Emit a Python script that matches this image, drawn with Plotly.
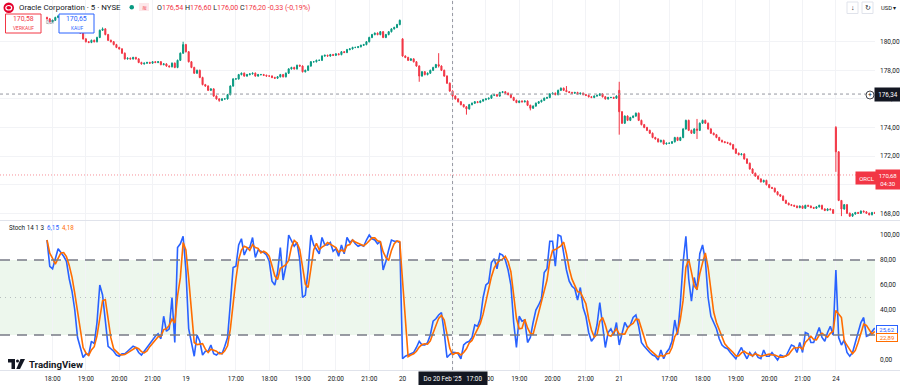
import pandas as pd
import plotly.graph_objects as go

W, H = 900, 385
UP, DOWN = "#089981", "#F23645"
BLUE, ORANGE = "#2962FF", "#FF6D00"
TXT = "#131722"
FONT = "Roboto, sans-serif"

# ---------------- data ----------------
SESSIONS = [("2025-02-18 17:50", 50), ("2025-02-19 15:30", 78), ("2025-02-20 15:30", 78),
            ("2025-02-21 15:30", 78), ("2025-02-24 15:30", 15)]

CLOSE_18 = [181.6, 181.4, 181.5, 181.7, 181.8, 181.7, 181.6, 181.5, 181.3, 181.2,
            181.0, 180.7, 180.6, 180.2, 180.0, 179.95, 180.1, 180.0, 180.3, 180.8,
            180.9, 180.5, 180.1, 180.0, 179.8, 179.6, 179.5, 179.2, 178.8, 178.85,
            178.8, 178.9, 178.8, 178.55, 178.45, 178.5, 178.55, 178.5, 178.6, 178.55,
            178.6, 178.4, 178.45, 178.3, 178.25, 178.5, 178.2, 178.7, 179.2, 179.8]
CLOSE_19 = [179.3, 178.6, 178.2, 177.8, 178.0, 177.5, 177.0, 176.9, 176.6, 176.7,
            176.2, 176.0, 175.9, 176.0, 176.0, 176.3, 176.9, 177.4, 177.4, 177.7,
            177.8, 177.6, 177.7, 177.75, 177.8, 177.6, 177.7, 177.7, 177.65, 177.6,
            177.6, 177.5, 177.45, 177.55, 177.7, 177.55, 177.8, 178.1, 178.2, 178.1,
            178.35, 178.3, 177.9, 178.0, 178.3, 178.6, 178.6, 178.7, 178.7, 179.0,
            179.05, 179.0, 179.1, 179.05, 179.15, 179.1, 179.3, 179.25, 179.45, 179.5,
            179.6, 179.6, 179.65, 179.75, 179.8, 180.0, 180.3, 180.5, 180.6, 180.5,
            180.7, 180.3, 180.5, 180.7, 180.9, 181.0, 181.2, 181.5]
CLOSE_20 = [179.0, 178.9, 178.7, 178.8, 178.6, 178.3, 177.6, 177.9, 177.7, 177.8,
            178.0, 178.2, 178.4, 178.3, 178.0, 177.6, 177.1, 176.55, 176.2, 176.0,
            175.8, 175.6, 175.45, 175.3, 175.6, 175.7, 175.8, 175.75, 175.85, 175.95,
            176.0, 176.05, 176.25, 176.3, 176.2, 176.45, 176.5, 176.4, 176.3, 176.1,
            175.9, 175.75, 175.85, 175.8, 175.85, 175.55, 175.35, 175.5, 175.7, 175.8,
            175.9, 176.05, 176.1, 176.35, 176.4, 176.3, 176.6, 176.75, 176.6, 176.5,
            176.45, 176.4, 176.45, 176.35, 176.4, 176.3, 176.25, 176.15, 176.1, 176.2,
            176.25, 176.35, 176.15, 176.0, 176.1, 176.1, 176.05, 176.2]
CLOSE_21 = [175.1, 174.3, 174.8, 174.5, 174.7, 174.8, 175.0, 174.5, 174.2, 174.0,
            173.8, 173.6, 173.3, 173.2, 173.0, 173.1, 172.85, 172.9, 172.9, 173.0,
            173.3, 173.1, 173.3, 173.9, 174.5, 173.8, 173.6, 173.9, 173.8, 174.3,
            174.5, 174.3, 173.9, 173.6, 173.5, 173.3, 173.1, 173.0, 172.95, 172.9,
            172.8, 172.5, 172.2, 172.1, 172.15, 171.8, 171.5, 171.1, 170.8, 170.6,
            170.4, 170.2, 170.3, 170.0, 169.8, 169.75, 169.5, 169.3, 169.2, 168.9,
            168.7, 168.6, 168.55, 168.5, 168.4, 168.5, 168.35, 168.55, 168.5, 168.4,
            168.35, 168.45, 168.55, 168.3, 168.2, 168.3, 168.25, 168.0]
CLOSE_24 = [172.3, 168.9, 168.3, 168.6, 168.0, 167.8, 167.95, 168.05, 168.0, 168.15,
            168.1, 168.0, 167.9, 168.05, 168.0]

FIRST_OPEN = 181.7
OPEN_GAPS = {"2025-02-20 15:30": 180.2, "2025-02-21 15:30": 176.6, "2025-02-24 15:30": 174.0}
WICK = 0.05
WICKS = {  # time: (high, low)
    "2025-02-18 19:30": (181.0, 180.75),
    "2025-02-18 21:55": (180.0, 179.15),
    "2025-02-19 16:30": (176.05, 175.8),
    "2025-02-20 16:00": (178.35, 177.2),
    "2025-02-20 16:35": (179.2, 178.2),
    "2025-02-20 17:00": (176.60, 176.00),
    "2025-02-20 17:25": (175.5, 174.9),
    "2025-02-20 19:20": (175.6, 175.2),
    "2025-02-20 20:25": (176.9, 176.5),
    "2025-02-21 15:30": (177.2, 173.5),
    "2025-02-21 17:50": (174.6, 173.2),
    "2025-02-24 15:30": (174.1, 170.9),
    "2025-02-24 15:40": (168.9, 167.8),
}

K_18 = [96, 75, 73, 82, 89, 86, 83, 79, 65, 55, 40, 18, 10, 2, 5, 4, 15, 13, 30, 60,
        52, 33, 11, 9, 7, 4, 3, 5, 5, 7, 9, 11, 10, 6, 4, 7, 11, 14, 16, 19,
        21, 17, 35, 23, 25, 50, 14, 90, 93, 99]
K_19 = [72, 25, 14, 3, 20, 15, 4, 7, 7, 12, 5, 4, 6, 5, 11, 18, 45, 74, 75, 92,
        97, 84, 89, 90, 98, 82, 88, 87, 86, 84, 79, 63, 60, 70, 90, 64, 75, 100, 96, 91,
        94, 80, 50, 52, 72, 100, 92, 88, 85, 98, 92, 92, 94, 87, 89, 83, 92, 85, 98, 94,
        96, 93, 91, 92, 91, 96, 100, 97, 96, 93, 95, 72, 79, 88, 96, 95, 95, 94]
K_20 = [1, 3, 4, 5, 6, 10, 15, 12, 12, 14, 20, 31, 33, 36, 38, 22, 2, 4.39, 6.15, 6,
        5, 1, 12, 14, 15, 18, 28, 27, 33, 50, 60, 62, 78, 81, 73, 85, 84, 80, 72, 60,
        30, 10, 35, 31, 32, 14, 18, 30, 40, 44, 49, 70, 73, 95, 95, 75, 100, 99, 84, 72,
        63, 59, 57, 48, 58, 42, 35, 22, 15, 18, 28, 46, 28, 10, 22, 25, 20, 30]
K_21 = [12, 20, 30, 26, 28, 34, 36, 27, 14, 11, 8, 6, 4, 3, 0, 8, 1, 6, 9, 15,
        32, 20, 45, 78, 99, 65, 47, 66, 56, 85, 92, 80, 50, 35, 30, 25, 17, 12, 10, 9,
        6, 3, 1, 6, 10, 5, 1, 6, 3, 6, 2, 1, 8, 3, 3, 6, 3, 0, 4, 3,
        3, 7, 12, 11, 6, 14, 6, 22, 21, 14, 14, 20, 26, 18, 15, 22, 27, 20]
K_24 = [72, 18, 12, 16, 6, 3, 6, 14, 22, 30, 34, 19, 20, 23, 25.62]
D_PERIOD = 3

TICK_TIMES = ["2025-02-18 18:00", "2025-02-18 19:00", "2025-02-18 20:00", "2025-02-18 21:00",
              "2025-02-19 15:30", "2025-02-19 17:00", "2025-02-19 18:00", "2025-02-19 19:00",
              "2025-02-19 20:00", "2025-02-19 21:00", "2025-02-20 15:30", "2025-02-20 17:00",
              "2025-02-20 18:00", "2025-02-20 19:00", "2025-02-20 20:00", "2025-02-20 21:00",
              "2025-02-21 15:30", "2025-02-21 17:00", "2025-02-21 18:00", "2025-02-21 19:00",
              "2025-02-21 20:00", "2025-02-21 21:00", "2025-02-24 15:30"]
TICK_TEXT = ["18:00", "19:00", "20:00", "21:00", "19", "17:00", "18:00", "19:00", "20:00",
             "21:00", "20", "17:00", "18:00", "19:00", "20:00", "21:00", "21", "17:00",
             "18:00", "19:00", "20:00", "21:00", "24"]
PRICE_TICKS = [168, 170, 172, 174, 176, 178, 180]
PRICE_TEXT = ["168,00", "170,00", "172,00", "174,00", "176,00", "178,00", "180,00"]
STOCH_TICKS = [0, 20, 40, 60, 80, 100]
STOCH_TEXT = ["0,00", "20,00", "40,00", "60,00", "80,00", "100,00"]
CROSS_TIME = "2025-02-20 17:00"
CROSS_PRICE = 176.34
LAST_PRICE = 170.68

# ---------------- build series ----------------
times = []
for start, n in SESSIONS:
    times += list(pd.date_range(start, periods=n, freq="5min"))
pos = {t: i for i, t in enumerate(times)}
closes = CLOSE_18 + CLOSE_19 + CLOSE_20 + CLOSE_21 + CLOSE_24
opens = [FIRST_OPEN] + closes[:-1]
for t, v in OPEN_GAPS.items():
    opens[pos[pd.Timestamp(t)]] = v
highs = [max(o, c) + WICK for o, c in zip(opens, closes)]
lows = [min(o, c) - WICK for o, c in zip(opens, closes)]
for t, (hh, ll) in WICKS.items():
    i = pos[pd.Timestamp(t)]
    highs[i], lows[i] = hh, ll
idx = list(range(len(times)))
k = pd.Series(K_18 + K_19 + K_20 + K_21 + K_24, dtype=float)
d = k.rolling(D_PERIOD, min_periods=1).mean()
tickvals = [pos[pd.Timestamp(t)] for t in TICK_TIMES]
cross_i = pos[pd.Timestamp(CROSS_TIME)]


def px(x):
    return x / W


def py(y):
    return 1 - y / H


fig = go.Figure()
fig.add_trace(go.Candlestick(
    x=idx, open=opens, high=highs, low=lows, close=closes, xaxis="x", yaxis="y",
    increasing=dict(line=dict(color=UP, width=1), fillcolor=UP),
    decreasing=dict(line=dict(color=DOWN, width=1), fillcolor=DOWN),
    whiskerwidth=0, showlegend=False, hoverinfo="skip"))
fig.add_trace(go.Scatter(x=idx, y=k, mode="lines", line=dict(color=BLUE, width=1.6),
                         xaxis="x2", yaxis="y2", showlegend=False, hoverinfo="skip"))
fig.add_trace(go.Scatter(x=idx, y=d, mode="lines", line=dict(color=ORANGE, width=1.6),
                         xaxis="x2", yaxis="y2", showlegend=False, hoverinfo="skip"))

XR = [-16.92, 298.08]
XD = [0, 875 / W]
grid = "#f2f3f6"
tfont = dict(family=FONT, size=6.5, color=TXT)
fig.update_layout(
    width=W, height=H, margin=dict(l=0, r=0, t=0, b=0),
    paper_bgcolor="white", plot_bgcolor="white", boxgap=0.45,
    font=dict(family=FONT, color=TXT),
    xaxis=dict(domain=XD, range=XR, anchor="y", tickvals=tickvals, showticklabels=False,
               showgrid=True, gridcolor=grid, zeroline=False, showline=False,
               rangeslider=dict(visible=False), fixedrange=True),
    xaxis2=dict(domain=XD, range=XR, anchor="y2", matches="x", tickvals=tickvals,
                ticktext=TICK_TEXT, showgrid=True, gridcolor=grid, zeroline=False,
                showline=False, ticks="", tickfont=tfont, ticklabelstandoff=3),
    yaxis=dict(domain=[1 - 220 / H, 1], range=[167.53, 182.92], side="right", anchor="x",
               tickvals=PRICE_TICKS, ticktext=PRICE_TEXT, showgrid=True, gridcolor=grid,
               zeroline=False, ticks="", tickfont=tfont, ticklabelstandoff=4),
    yaxis2=dict(domain=[1 - 370 / H, 1 - 221 / H], range=[-8, 111.2], side="right",
                anchor="x2", tickvals=STOCH_TICKS, ticktext=STOCH_TEXT, showgrid=False,
                zeroline=False, ticks="", tickfont=tfont, ticklabelstandoff=4),
)

shapes = []
# stoch band & levels
shapes.append(dict(type="rect", xref="x2 domain", yref="y2", x0=0, x1=1, y0=20, y1=80,
                   fillcolor="rgba(76,175,80,0.10)", line=dict(width=0), layer="below"))
for lv in (80, 20):
    shapes.append(dict(type="line", xref="x2 domain", yref="y2", x0=0, x1=1, y0=lv, y1=lv,
                       line=dict(color="#787B86", width=1.3, dash="10px,7px")))
shapes.append(dict(type="line", xref="x2 domain", yref="y2", x0=0, x1=1, y0=50, y1=50,
                   line=dict(color="rgba(120,123,134,0.45)", width=1, dash="1px,4px")))
# pane separators
shapes.append(dict(type="line", xref="paper", yref="paper", x0=0, x1=1, y0=py(220.5), y1=py(220.5),
                   line=dict(color="#e0e3eb", width=1)))
shapes.append(dict(type="line", xref="paper", yref="paper", x0=0, x1=1, y0=py(370.5), y1=py(370.5),
                   line=dict(color="#e0e3eb", width=1)))
# last price line
shapes.append(dict(type="line", xref="x domain", yref="y", x0=0, x1=1, y0=LAST_PRICE, y1=LAST_PRICE,
                   line=dict(color="rgba(242,54,69,0.55)", width=1, dash="1px,2px")))
# crosshair
shapes.append(dict(type="line", xref="x", yref="paper", x0=cross_i, x1=cross_i, y0=py(370), y1=1,
                   line=dict(color="#9598A1", width=1, dash="3px,3px")))
shapes.append(dict(type="line", xref="x domain", yref="y", x0=0, x1=1, y0=CROSS_PRICE, y1=CROSS_PRICE,
                   line=dict(color="#9598A1", width=1, dash="3px,3px")))
# header logo
shapes.append(dict(type="circle", xref="paper", yref="paper", x0=px(3.5), x1=px(14), y0=py(13), y1=py(2.5),
                   fillcolor="#E4002B", line=dict(width=0)))
shapes.append(dict(type="circle", xref="paper", yref="paper", x0=px(5.8), x1=px(11.7), y0=py(10), y1=py(5.5),
                   fillcolor="#E4002B", line=dict(color="white", width=1.2)))
shapes.append(dict(type="circle", xref="paper", yref="paper", x0=px(129.5), x1=px(134), y0=py(9.5), y1=py(5),
                   fillcolor=UP, line=dict(width=0)))
shapes.append(dict(type="rect", xref="paper", yref="paper", x0=px(139), x1=px(149), y0=py(11), y1=py(3),
                   fillcolor="#fde7ea", line=dict(width=0)))
# buy / sell boxes
shapes.append(dict(type="rect", xref="paper", yref="paper", x0=px(5.5), x1=px(41), y0=py(33), y1=py(14),
                   fillcolor="white", line=dict(color=DOWN, width=1)))
shapes.append(dict(type="rect", xref="paper", yref="paper", x0=px(59), x1=px(94), y0=py(33), y1=py(14),
                   fillcolor="white", line=dict(color=BLUE, width=1)))
# top-right buttons
for x0 in (847, 862):
    shapes.append(dict(type="rect", xref="paper", yref="paper", x0=px(x0), x1=px(x0 + 11), y0=py(13.5), y1=py(2),
                       fillcolor="white", line=dict(color="#e0e3eb", width=1)))
# crosshair plus button
shapes.append(dict(type="circle", xref="paper", yref="paper", x0=px(866), x1=px(874), y0=py(99), y1=py(91),
                   fillcolor="white", line=dict(color=TXT, width=0.8)))
# TradingView logo
logo = "#131722"
shapes.append(dict(type="rect", xref="paper", yref="paper", x0=px(8), x1=px(15), y0=py(362.5), y1=py(359),
                   fillcolor=logo, line=dict(width=0)))
shapes.append(dict(type="rect", xref="paper", yref="paper", x0=px(11.5), x1=px(15), y0=py(369), y1=py(359),
                   fillcolor=logo, line=dict(width=0)))
shapes.append(dict(type="circle", xref="paper", yref="paper", x0=px(16), x1=px(19), y0=py(362.5), y1=py(359.5),
                   fillcolor=logo, line=dict(width=0)))
shapes.append(dict(type="path", xref="paper", yref="paper",
                   path=f"M {px(20.5)} {py(359)} L {px(25)} {py(359)} L {px(20)} {py(369)} L {px(16.3)} {py(369)} Z",
                   fillcolor=logo, line=dict(width=0)))
fig.update_layout(shapes=shapes)

ann = []


def label(x, y, text, size=6.5, color=TXT, xanchor="left", **kw):
    ann.append(dict(xref="paper", yref="paper", x=px(x), y=py(y), text=text, showarrow=False,
                    xanchor=xanchor, yanchor="middle", font=dict(family=FONT, size=size, color=color), **kw))


label(16.5, 7.5, "Oracle Corporation · 5 · NYSE", size=7.9)
label(144, 7, "≋", size=6, color="#F23645", xanchor="center")
r = lambda s: f"<span style='color:{DOWN}'>{s}</span>"
label(155, 7.5, f"O{r('176,54')} H{r('176,60')} L{r('176,00')} C{r('176,20')} {r('-0,33 (-0,19%)')}", size=7.1)
label(23.2, 19.5, "170,58", size=6.9, color=DOWN, xanchor="center")
label(23.2, 28, "VERKAUF", size=4.9, color=DOWN, xanchor="center")
label(76.5, 19.5, "170,65", size=6.9, color=BLUE, xanchor="center")
label(76.5, 28, "KAUF", size=4.9, color=BLUE, xanchor="center")
label(50, 22, "0,07", size=4.5, color="#787B86", xanchor="center")
label(852.5, 7.8, "↓", size=7, xanchor="center")
label(867.5, 7.8, "↻", size=7, xanchor="center")
label(878.5, 7.8, "USD ▾", size=5.8)
label(7, 227.5, f"Stoch 14 1 3  <span style='color:{BLUE}'>6,15</span>  <span style='color:{ORANGE}'>4,18</span>",
      size=6.3)
label(26.5, 364.5, "<b>TradingView</b>", size=9.6)
label(870, 95, "+", size=7, xanchor="center")
# right-side value labels
label(887.5, 95, "176,34", size=6.3, color="white", xanchor="center", bgcolor=TXT, width=24, height=11)
label(866.5, 177.5, "ORCL", size=6, color="white", xanchor="center", bgcolor=DOWN, width=20, height=10)
label(888, 179.5, "170,68<br>04:30", size=6, color="white", xanchor="center", bgcolor=DOWN, width=22,
      height=17)
label(887, 329, "25,62", size=6, color=BLUE, xanchor="center", bgcolor="white", bordercolor=BLUE,
      borderwidth=1, borderpad=0, width=20, height=7)
label(887, 337.5, "22,89", size=6, color=ORANGE, xanchor="center", bgcolor="white", bordercolor=ORANGE,
      borderwidth=1, borderpad=0, width=20, height=7)
# crosshair time label
ann.append(dict(xref="x", yref="paper", x=cross_i, y=py(378.5), text="Do 20 Feb '25   17:00",
                showarrow=False, xanchor="center", yanchor="middle", bgcolor=TXT, width=66, height=12,
                font=dict(family=FONT, size=6.3, color="white")))
fig.update_layout(annotations=ann)

fig.write_html("out.html", config={"displayModeBar": False},
               post_script="document.body.style.margin='0';document.body.style.overflow='hidden';")
